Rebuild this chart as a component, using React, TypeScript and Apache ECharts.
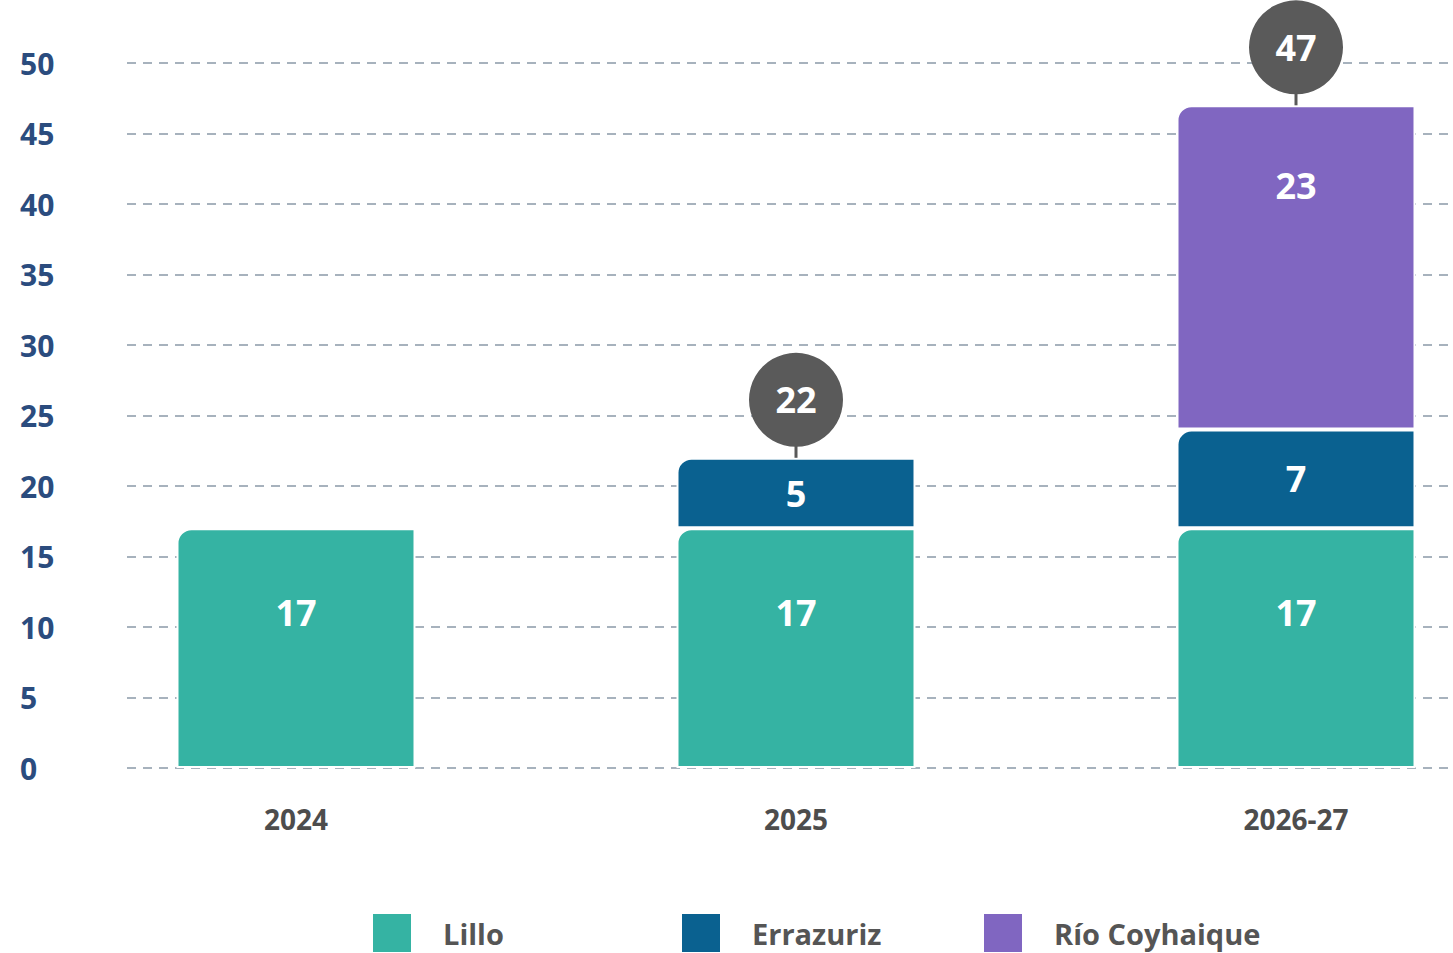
import React, { useEffect, useRef } from "react";
import * as echarts from "echarts";

const categories = ["2024", "2025", "2026-27"];
const lilloValues = [17, 17, 17];
const errazurizValues = [null, 5, 7];
const rioCoyhaiqueValues = [null, null, 23];
const showTotal = [false, true, true];
const yTicks = { min: 0, max: 50, interval: 5 };

const FONT = '"Open Sans", "Noto Sans", sans-serif';
const COLORS = { lillo: "#35b3a3", errazuriz: "#0a6190", rio: "#8066c1" };
const CHART_W = 1600;
const VIEW_W = 1453;

export default function App() {
  const ref = useRef<HTMLDivElement>(null);

  useEffect(() => {
    if (!ref.current) return;
    const chart = echarts.init(ref.current, null, { renderer: "svg" });

    const totals = categories.map(
      (_, i) => (lilloValues[i] || 0) + (errazurizValues[i] || 0) + (rioCoyhaiqueValues[i] || 0)
    );
    const totalData = categories
      .map((_, i) => (showTotal[i] ? [i, totals[i]] : null))
      .filter((d) => d !== null);

    const barLabel = (position: any, distance: number) => ({
      show: true,
      position,
      distance,
      color: "#ffffff",
      fontFamily: FONT,
      fontWeight: "bold",
      fontSize: 36,
    });

    const barCommon = {
      type: "bar",
      stack: "total",
      xAxisIndex: 1,
      yAxisIndex: 1,
      barWidth: 239,
    };

    const itemStyle = (color: string) => ({
      color,
      borderRadius: [14, 0, 0, 0],
      borderColor: "#ffffff",
      borderWidth: 2,
    });

    const legendCommon = {
      top: 912,
      itemWidth: 40,
      itemHeight: 40,
      itemGap: 0,
      padding: 0,
      icon: "rect",
      textStyle: {
        fontFamily: FONT,
        fontWeight: "bold",
        fontSize: 29,
        lineHeight: 34,
        color: "#555555",
        padding: [0, 0, 0, 26],
      },
      selectedMode: false,
    };

    chart.setOption({
      animation: false,
      backgroundColor: "#ffffff",
      grid: [
        { left: 127, right: CHART_W - VIEW_W, top: 63, height: 705 },
        { left: 46, width: 1500, top: 63, height: 705 },
      ],
      legend: [
        { ...legendCommon, left: 371, data: ["Lillo"] },
        { ...legendCommon, left: 680, data: ["Errazuriz"] },
        { ...legendCommon, left: 982, data: ["Río Coyhaique"] },
      ],
      xAxis: [
        { type: "category", gridIndex: 0, data: categories, show: false },
        {
          type: "category",
          gridIndex: 1,
          data: categories,
          axisLine: { show: false },
          axisTick: { show: false },
          axisLabel: {
            margin: 37,
            fontFamily: FONT,
            fontWeight: "bold",
            fontSize: 28,
            color: "#4d4d4d",
          },
        },
      ],
      yAxis: [
        {
          type: "value",
          gridIndex: 0,
          min: yTicks.min,
          max: yTicks.max,
          interval: yTicks.interval,
          axisLine: { show: false },
          axisTick: { show: false },
          axisLabel: {
            align: "left",
            margin: 107,
            fontFamily: FONT,
            fontWeight: "bold",
            fontSize: 30,
            color: "#2b4c7e",
          },
          splitLine: {
            show: true,
            lineStyle: { color: "#8a99a8", type: [9, 7], width: 1.5 },
          },
        },
        {
          type: "value",
          gridIndex: 1,
          min: yTicks.min,
          max: yTicks.max,
          interval: yTicks.interval,
          show: false,
          splitLine: { show: false },
        },
      ],
      series: [
        {
          ...barCommon,
          name: "Lillo",
          data: lilloValues,
          itemStyle: itemStyle(COLORS.lillo),
          label: barLabel("insideTop", 66),
        },
        {
          ...barCommon,
          name: "Errazuriz",
          data: errazurizValues,
          itemStyle: itemStyle(COLORS.errazuriz),
          label: barLabel("inside", 0),
        },
        {
          ...barCommon,
          name: "Río Coyhaique",
          data: rioCoyhaiqueValues,
          itemStyle: itemStyle(COLORS.rio),
          label: barLabel("insideTop", 62),
        },
        {
          type: "custom",
          name: "Total",
          xAxisIndex: 1,
          yAxisIndex: 1,
          z: 10,
          clip: false,
          data: totalData,
          renderItem: (params: any, api: any) => {
            const pt = api.coord([api.value(0), api.value(1)]);
            const cy = pt[1] - 58;
            return {
              type: "group",
              children: [
                {
                  type: "line",
                  shape: { x1: pt[0], y1: pt[1], x2: pt[0], y2: cy },
                  style: { stroke: "#595959", lineWidth: 3 },
                },
                {
                  type: "circle",
                  shape: { cx: pt[0], cy, r: 47 },
                  style: { fill: "#5a5a5a" },
                },
                {
                  type: "text",
                  style: {
                    text: String(api.value(1)),
                    x: pt[0],
                    y: cy,
                    align: "center",
                    verticalAlign: "middle",
                    fill: "#ffffff",
                    font: `bold 36px ${FONT}`,
                  },
                },
              ],
            };
          },
        },
      ],
    });

    return () => chart.dispose();
  }, []);

  return (
    <div
      style={{
        position: "absolute",
        left: 0,
        top: 0,
        width: VIEW_W,
        height: 953,
        overflow: "hidden",
        background: "#ffffff",
      }}
    >
      <div ref={ref} style={{ width: CHART_W, height: 953 }} />
    </div>
  );
}
